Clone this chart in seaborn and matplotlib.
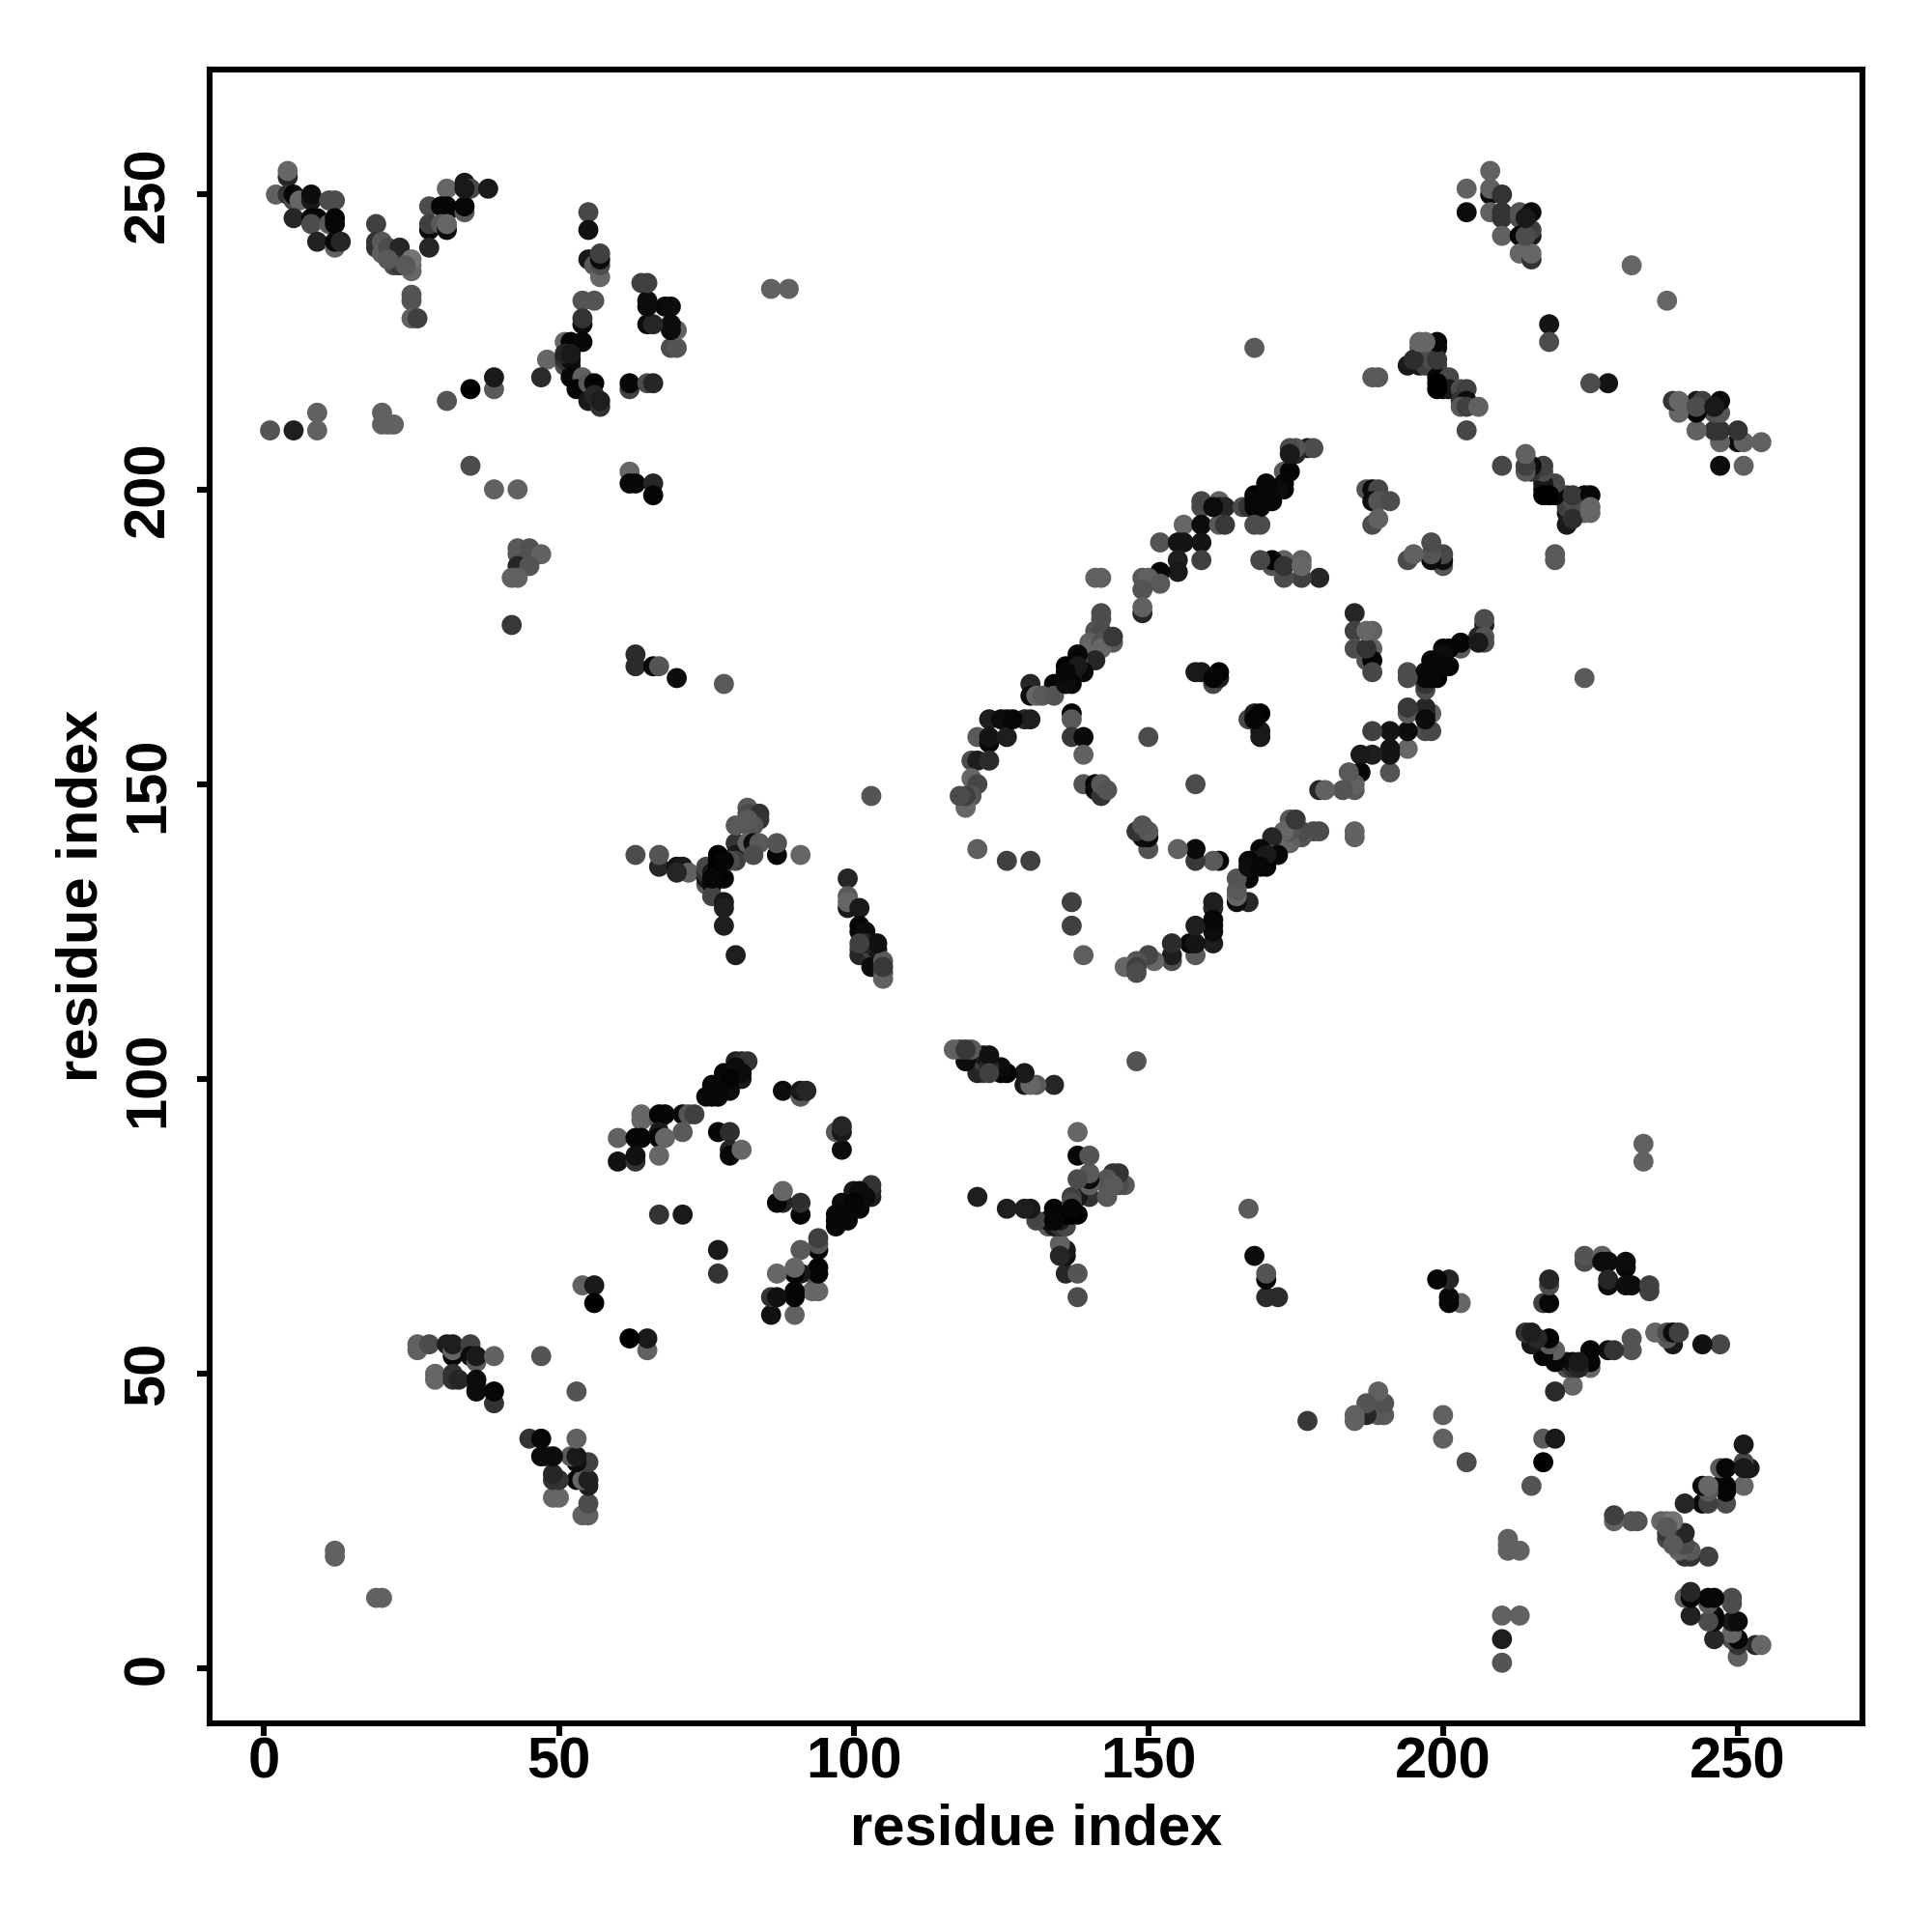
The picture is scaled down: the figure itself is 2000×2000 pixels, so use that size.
import matplotlib
matplotlib.use('Agg')
import matplotlib.pyplot as plt
import pandas as pd
import seaborn as sns

# contacts, grouped by blob. shade = grey level of the dot (0 black)
x_a = [4, 4, 2, 4, 5, 5, 6, 8, 8, 11, 12, 5, 8, 9, 8, 11, 12, 12, 9, 12, 12, 13]
y_a = [253, 254, 250, 250, 249, 250, 249, 249, 250, 249, 249, 246, 246, 246, 245, 245, 246, 245, 242, 241, 242, 242]
g_a = [.15, .4, .38, .2, .3, .03, .4, .1, .05, .3, .3, .15, .02, .02, .3, .35, .02, .03, .13, .38, .03, .15]

x_b = [19, 19, 19, 20, 20, 21, 22, 23, 23, 25, 25, 25, 25, 25, 25, 26]
y_b = [245, 242, 241, 242, 240, 241, 238, 241, 238, 237, 238, 239, 233, 232, 229, 229]
g_b = [.25, .2, .2, .35, .38, .3, .28, .15, .22, .4, .4, .45, .33, .33, .38, .25]

x_c = [31, 34, 35, 38, 28, 30, 31, 31, 34, 34, 28, 28, 30, 31, 31, 28]
y_c = [251, 252, 251, 251, 248, 248, 247, 248, 247, 248, 244, 245, 245, 244, 245, 241]
g_c = [.4, .1, .28, .1, .3, .02, .02, .02, .35, .03, .03, .25, .35, .05, .4, .15]

x_d = [55, 55, 55, 56, 57, 57, 57, 64, 54, 56, 54, 54, 51, 52, 54, 48, 51, 52, 51, 52, 47, 52, 54, 53, 55, 56, 55, 56, 57, 57, 62, 62]
y_d = [247, 244, 239, 238, 236, 238, 239, 235, 232, 232, 228, 229, 225, 225, 225, 222, 221, 221, 222, 222, 219, 219, 219, 217, 218, 218, 215, 216, 214, 215, 217, 218]
g_d = [.28, .07, .1, .35, .4, .3, .05, .25, .33, .33, .05, .2, .4, .02, .03, .4, .3, .1, .2, .05, .17, .03, .38, .02, .35, .02, .1, .15, .2, .12, .25, .03]

x_e = [57, 1, 5, 9, 9, 20, 20, 21, 22, 31, 35, 39, 39, 35, 39, 43, 62, 62, 63, 66, 66, 65, 12, 12, 19, 20]
y_e = [240, 210, 210, 213, 210, 213, 211, 211, 211, 215, 217, 217, 219, 204, 200, 200, 203, 201, 201, 201, 199, 218, 19, 20, 12, 12]
g_e = [.25, .33, .12, .38, .38, .38, .38, .38, .38, .33, .0, .35, .1, .3, .38, .38, .4, .03, .03, .15, .02, .3, .38, .38, .38, .38]

x_f = [43, 43, 45, 45, 47, 43, 45, 42, 43, 42, 63, 63, 66, 67, 70, 78, 86, 89, 168]
y_f = [190, 189, 190, 189, 189, 187, 187, 185, 185, 177, 172, 170, 170, 170, 168, 167, 234, 234, 224]
g_f = [.35, .35, .32, .32, .38, .15, .33, .38, .38, .22, .17, .17, .02, .33, .05, .35, .38, .38, .35]

x_g = [63, 67, 67, 70, 71, 72, 75, 75, 75, 75, 76, 76, 76, 77, 77, 77, 77, 78, 78, 78, 78, 80, 80, 80, 79, 80, 82, 82, 82, 84, 84, 83, 82, 83, 84, 83, 87, 87, 91, 103]
y_g = [138, 136, 138, 136, 136, 135, 133, 134, 135, 136, 135, 133, 131, 138, 137, 136, 135, 134, 130, 129, 126, 140, 138, 137, 137, 143, 146, 145, 143, 145, 144, 143, 140, 140, 140, 138, 138, 140, 138, 148]
g_g = [.3, .15, .33, .07, .1, .38, .35, .1, .2, .28, .1, .05, .27, .0, .0, .0, .0, .02, .1, .12, .12, .2, .1, .25, .3, .35, .35, .3, .35, .2, .2, .33, .38, .05, .35, .3, .03, .33, .4, .33]

x_h = [99, 99, 99, 99, 101, 101, 101, 102, 101, 101, 103, 104, 103, 105, 105, 105]
y_h = [134, 131, 129, 130, 129, 126, 125, 125, 122, 121, 122, 122, 119, 118, 117, 120]
g_h = [.15, .35, .1, .4, .1, .02, .03, .05, .3, .15, .25, .1, .05, .25, .38, .35]

x_i = [80, 81, 82, 78, 80, 81, 76, 78, 79, 75, 76, 77, 64, 64, 67, 68, 67, 71, 72, 73, 71, 60, 63, 64, 67, 67, 68, 77, 79, 79, 79, 81, 60, 63, 63, 67, 67, 71]
y_i = [103, 103, 103, 101, 101, 100, 99, 99, 98, 97, 97, 97, 94, 93, 93, 94, 94, 94, 94, 94, 91, 90, 90, 90, 91, 90, 90, 91, 91, 88, 87, 88, 86, 86, 87, 87, 77, 77]
g_i = [.12, .15, .2, .03, .05, .1, .03, .05, .05, .03, .03, .03, .4, .4, .35, .02, .02, .03, .33, .25, .35, .38, .02, .02, .1, .02, .4, .02, .18, .15, .03, .4, .07, .2, .07, .4, .2, .1]

x_j = [88, 91, 91, 92, 97, 98, 98, 98, 88, 87, 88, 91, 91, 100, 101, 102, 103, 103, 103, 98, 100, 101, 98, 99, 97, 97, 97]
y_j = [98, 97, 98, 98, 91, 92, 91, 88, 81, 79, 79, 79, 77, 81, 81, 80, 80, 81, 82, 79, 79, 78, 77, 76, 77, 76, 75]
g_j = [.05, .35, .1, .15, .38, .15, .15, .05, .4, .05, .15, .15, .02, .03, .05, .05, .1, .2, .25, .03, .02, .03, .03, .03, .03, .05, .1]

x_k = [94, 94, 94, 91, 94, 94, 90, 90, 91, 93, 87, 94, 93, 90, 90, 86, 87, 86, 90, 77, 77, 54, 56, 56, 62, 65, 65]
y_k = [71, 72, 73, 71, 68, 67, 68, 67, 67, 67, 67, 64, 64, 64, 63, 63, 63, 60, 60, 71, 67, 65, 65, 62, 56, 54, 56]
g_k = [.05, .3, .3, .35, .02, .02, .4, .03, .02, .38, .4, .4, .4, .02, .02, .15, .05, .07, .4, .07, .2, .38, .1, .0, .03, .35, .07]

x_l = [117, 118, 119, 120, 119, 123, 123, 122, 123, 125, 125, 126, 129, 129, 130, 131, 134, 148, 138, 138, 140, 138, 140, 140, 140, 137, 138, 140, 143, 143, 144, 145, 145, 146, 144]
y_l = [105, 105, 105, 105, 103, 102, 104, 101, 101, 102, 101, 101, 101, 99, 99, 99, 99, 103, 91, 87, 87, 83, 84, 82, 83, 80, 80, 80, 83, 80, 84, 84, 82, 82, 82]
g_l = [.4, .3, .22, .35, .12, .15, .07, .05, .25, .1, .08, .1, .12, .1, .35, .35, .15, .33, .4, .03, .3, .3, .33, .33, .05, .33, .05, .2, .3, .33, .15, .2, .15, .33, .35]

x_m = [121, 126, 129, 130, 131, 133, 133, 134, 134, 135, 136, 136, 137, 137, 138, 135, 135, 136, 136, 136, 138, 138]
y_m = [80, 78, 78, 78, 76, 75, 76, 78, 76, 76, 75, 77, 78, 77, 77, 72, 70, 71, 70, 67, 67, 63]
g_m = [.12, .15, .17, .17, .22, .25, .03, .02, .03, .05, .3, .03, .02, .02, .02, .35, .15, .1, .12, .2, .35, .33]

x_n = [159, 159, 162, 162, 163, 166, 167, 168, 168, 156, 159, 162, 163, 169, 152, 155, 156, 159, 155, 159, 155, 152, 149, 150, 152, 149, 149, 149, 141, 142]
y_n = [197, 198, 198, 197, 197, 197, 197, 199, 197, 194, 194, 194, 194, 194, 191, 191, 191, 191, 188, 188, 186, 186, 185, 185, 184, 183, 179, 180, 185, 185]
g_n = [.3, .28, .38, .1, .15, .3, .2, .0, .03, .4, .05, .35, .22, .3, .33, .08, .08, .08, .12, .25, .1, .03, .35, .38, .35, .33, .15, .38, .38, .38]

x_o = [142, 142, 141, 142, 144, 140, 140, 142, 142, 144, 141, 138, 138, 139, 136, 136, 137, 138, 134, 135, 137, 130, 130, 131, 132, 134, 137, 137]
y_o = [179, 178, 176, 176, 174, 174, 173, 174, 173, 175, 171, 171, 172, 169, 168, 170, 168, 170, 167, 167, 167, 167, 165, 165, 165, 165, 162, 161]
g_o = [.3, .3, .33, .3, .35, .38, .4, .33, .4, .22, .15, .3, .03, .03, .1, .0, .1, .1, .02, .02, .02, .15, .05, .4, .35, .33, .02, .35]

x_p = [158, 159, 161, 162, 162, 123, 125, 126, 129, 121, 123, 123, 126, 137, 139, 139, 150, 120, 121, 123, 120, 121, 120, 119, 119, 158, 139, 141, 141, 142, 142, 143]
y_p = [169, 169, 167, 168, 169, 161, 161, 161, 161, 158, 157, 158, 158, 158, 158, 155, 158, 154, 154, 154, 151, 150, 148, 147, 146, 150, 150, 150, 149, 148, 150, 149]
g_p = [.1, .1, .28, .12, .0, .12, .05, .05, .15, .35, .03, .08, .12, .22, .04, .38, .3, .3, .12, .17, .4, .28, .33, .38, .4, .3, .33, .02, .05, .2, .35, .33]

x_q = [148, 149, 149, 150, 150, 150, 155, 158, 158, 161, 162, 121, 126, 130, 137, 137, 139, 161, 161, 161, 158, 161, 157, 158, 158, 154, 154, 154, 150, 151, 148, 148, 146, 148]
y_q = [142, 143, 141, 141, 142, 139, 139, 137, 139, 137, 137, 139, 137, 137, 130, 126, 121, 130, 127, 126, 126, 123, 123, 121, 123, 120, 121, 123, 121, 120, 119, 120, 119, 118]
g_q = [.2, .33, .05, .1, .38, .33, .38, .2, .05, .4, .03, .37, .25, .25, .22, .22, .35, .12, .03, .03, .1, .12, .03, .35, .12, .3, .12, .15, .25, .38, .25, .33, .4, .3]

x_r = [185, 185, 188, 185, 188, 187, 188, 188, 194, 207, 207, 206, 207, 207, 203, 203, 201, 200, 200, 198, 201, 198, 200, 199, 197, 197, 197, 197]
y_r = [179, 176, 176, 173, 173, 171, 171, 169, 169, 177, 178, 175, 175, 174, 173, 174, 173, 173, 172, 170, 170, 171, 170, 168, 166, 167, 168, 169]
g_r = [.15, .25, .38, .3, .38, .33, .02, .28, .3, .12, .3, .15, .33, .3, .35, .02, .02, .02, .05, .1, .02, .03, .03, .03, .33, .2, .05, .03]

x_s = [194, 194, 197, 197, 198, 197, 198, 188, 191, 194, 194, 191, 191, 186, 188, 186, 191, 184, 179, 180, 183, 185, 185]
y_s = [162, 163, 161, 163, 162, 159, 159, 159, 159, 159, 156, 156, 155, 155, 155, 152, 152, 152, 149, 149, 149, 149, 150]
g_s = [.33, .28, .05, .15, .38, .35, .25, .3, .05, .05, .38, .1, .07, .1, .1, .03, .33, .38, .2, .33, .35, .35, .38]

x_t = [174, 175, 173, 176, 179, 178, 185, 185, 171, 174, 172, 169, 170, 167, 167, 169, 167, 165, 165, 165, 165, 167, 169, 168, 168, 167]
y_t = [144, 144, 142, 142, 142, 142, 141, 142, 141, 140, 138, 139, 136, 136, 137, 136, 134, 134, 132, 131, 130, 130, 162, 162, 161, 161]
g_t = [.38, .2, .38, .3, .27, .3, .3, .37, .2, .35, .05, .03, .02, .05, .0, .03, .02, .33, .4, .38, .03, .15, .02, .04, .02, .3]

x_u = [169, 169, 174, 174, 175, 177, 178, 173, 174, 170, 173, 173, 168, 168, 171, 166, 168, 168]
y_u = [159, 158, 206, 207, 207, 207, 207, 203, 203, 201, 200, 201, 198, 199, 198, 197, 197, 194]
g_u = [.03, .06, .1, .3, .28, .1, .28, .4, .02, .03, .02, .02, .03, .03, .05, .33, .05, .3]

x_v = [169, 171, 173, 171, 173, 173, 176, 176, 179, 187, 188, 189, 188, 189, 191, 188, 189, 194, 195, 198, 198, 198, 200, 200, 200, 204]
y_v = [188, 188, 188, 187, 187, 185, 187, 185, 185, 200, 200, 200, 198, 198, 198, 194, 195, 188, 189, 191, 189, 188, 189, 188, 187, 210]
g_v = [.3, .05, .33, .3, .2, .3, .4, .2, .13, .33, .05, .28, .05, .33, .3, .3, .38, .3, .38, .33, .38, .05, .25, .08, .35, .28]

x_w = [208, 204, 208, 208, 210, 204, 208, 210, 210, 213, 213, 215, 210, 213, 215, 215, 213, 215, 215, 232, 238, 218, 218, 225, 228]
y_w = [254, 251, 250, 251, 250, 247, 247, 246, 247, 246, 247, 247, 243, 243, 243, 244, 240, 239, 240, 238, 232, 228, 225, 218, 218]
g_w = [.38, .38, .05, .38, .2, .05, .38, .2, .2, .3, .33, .05, .38, .03, .1, .25, .4, .2, .4, .4, .4, .08, .3, .3, .05]

x_y = [196, 197, 199, 194, 196, 196, 197, 199, 198, 199, 201, 200, 201, 203, 204, 203, 204, 203, 204, 206, 204, 188, 189, 219, 219]
y_y = [224, 224, 224, 221, 221, 222, 221, 221, 222, 219, 219, 217, 217, 217, 217, 215, 215, 214, 214, 214, 210, 219, 219, 188, 189]
g_y = [.38, .38, .05, .1, .1, .35, .25, .25, .3, .03, .28, .05, .1, .3, .25, .2, .05, .35, .25, .38, .27, .35, .35, .4, .33]

x_z = [239, 240, 240, 243, 243, 244, 243, 246, 247, 247, 243, 246, 247, 250, 247, 250, 251, 254, 247, 251]
y_z = [215, 215, 213, 214, 215, 215, 213, 214, 213, 215, 210, 210, 210, 210, 208, 208, 208, 208, 204, 204]
g_z = [.2, .4, .38, .3, .1, .2, .05, .1, .33, .02, .35, .2, .15, .18, .35, .1, .38, .4, .03, .38]

x_aa = [214, 210, 214, 214, 215, 217, 217, 217, 219, 217, 218, 222, 225, 222, 222, 224, 225, 225]
y_aa = [206, 204, 203, 204, 204, 203, 204, 201, 201, 199, 199, 199, 199, 195, 196, 196, 196, 197]
g_aa = [.38, .28, .35, .3, .05, .25, .3, .02, .25, .0, .0, .22, .03, .18, .3, .4, .4, .4]

x_ab = [26, 26, 28, 31, 32, 32, 32, 35, 35, 36, 36, 39, 29, 29, 32, 32, 33, 36, 36, 36, 39, 39, 47]
y_ab = [55, 54, 55, 55, 53, 54, 55, 55, 53, 52, 53, 53, 50, 49, 50, 49, 49, 48, 49, 47, 45, 47, 53]
g_ab = [.38, .38, .3, .12, .03, .4, .12, .25, .05, .35, .1, .38, .4, .4, .2, .2, .15, .2, .05, .05, .2, .03, .33]

x_ac = [45, 47, 53, 47, 48, 49, 52, 53, 53, 55, 49, 49, 50, 53, 54, 55, 55, 49, 50, 55, 54, 55, 53]
y_ac = [39, 39, 39, 36, 36, 36, 36, 36, 35, 35, 33, 32, 32, 32, 32, 32, 31, 29, 29, 28, 26, 26, 47]
g_ac = [.2, .03, .33, .03, .1, .03, .35, .1, .05, .2, .12, .1, .15, .05, .4, .1, .12, .37, .37, .27, .37, .37, .33]

x_ad = [224, 224, 227, 227, 228, 231, 231, 228, 228, 231, 232, 235, 235, 218, 218, 217, 218, 214, 215, 215, 218, 218, 217, 219, 219, 222, 223, 222, 223]
y_ad = [69, 70, 70, 69, 69, 68, 69, 65, 66, 65, 65, 64, 65, 65, 66, 62, 62, 57, 57, 55, 55, 56, 53, 52, 54, 51, 51, 52, 52]
g_ad = [.3, .33, .38, .05, .05, .03, .05, .05, .15, .05, .05, .35, .25, .3, .15, .3, .0, .2, .1, .05, .1, .08, .03, .03, .33, .35, .15, .15, .1]

x_ae = [225, 225, 225, 228, 229, 232, 232, 236, 238, 238, 239, 239, 240, 244, 247, 219, 222, 217, 219, 217, 215]
y_ae = [51, 52, 54, 54, 54, 54, 56, 57, 57, 56, 55, 57, 57, 55, 55, 47, 48, 39, 39, 35, 31]
g_ae = [.35, .05, .07, .1, .25, .33, .3, .38, .3, .3, .12, .02, .25, .08, .33, .17, .4, .38, .15, .02, .33]

x_af = [251, 251, 251, 252, 247, 248, 251, 244, 245, 245, 247, 248, 248, 244, 245, 248, 241, 229, 229, 232, 233, 237, 239, 238, 238, 241, 239, 240, 242, 241, 242, 245]
y_af = [38, 35, 34, 34, 34, 34, 31, 31, 30, 31, 31, 30, 31, 28, 28, 28, 28, 25, 26, 25, 25, 25, 25, 24, 22, 23, 21, 20, 20, 19, 19, 19]
g_af = [.12, .25, .1, .15, .38, .03, .4, .03, .33, .35, .03, .03, .03, .05, .2, .28, .15, .35, .3, .33, .33, .38, .4, .35, .3, .15, .35, .38, .35, .05, .1, .27]

x_all = x_a + x_b + x_c + x_d + x_e + x_f + x_g + x_h + x_i + x_j + x_k + x_l + x_m + x_n + x_o + x_p + x_q + x_r + x_s + x_t + x_u + x_v + x_w + x_y + x_z + x_aa + x_ab + x_ac + x_ad + x_ae + x_af
y_all = y_a + y_b + y_c + y_d + y_e + y_f + y_g + y_h + y_i + y_j + y_k + y_l + y_m + y_n + y_o + y_p + y_q + y_r + y_s + y_t + y_u + y_v + y_w + y_y + y_z + y_aa + y_ab + y_ac + y_ad + y_ae + y_af
g_all = g_a + g_b + g_c + g_d + g_e + g_f + g_g + g_h + g_i + g_j + g_k + g_l + g_m + g_n + g_o + g_p + g_q + g_r + g_s + g_t + g_u + g_v + g_w + g_y + g_z + g_aa + g_ab + g_ac + g_ad + g_ae + g_af

ticks = [0, 50, 100, 150, 200, 250]

sns.set_theme(style='ticks')
plt.rcParams['font.family'] = ['Liberation Sans', 'DejaVu Sans']

contacts = pd.DataFrame({'i': x_all, 'j': y_all, 'shade': g_all})
# contact map is symmetric, each pair was read from one side or both
lo = contacts[['i', 'j']].min(axis=1)
hi = contacts[['i', 'j']].max(axis=1)
upper = pd.DataFrame({'i': lo, 'j': hi, 'shade': contacts['shade']}).drop_duplicates(['i', 'j'])
lower = upper.rename(columns={'i': 'j', 'j': 'i'})
both = pd.concat([upper, lower], ignore_index=True)

fig = plt.figure(figsize=(10, 10), dpi=200)
ax = fig.add_axes([217.3 / 2000, 1 - 1783.5 / 2000, 1711 / 2000, 1711.5 / 2000])
sns.scatterplot(data=both, x='i', y='j', hue='shade', palette='gray', hue_norm=(0, 1),
                s=56, linewidth=0, legend=False, ax=ax)

ax.set_xlim(-9.2, 271.2)
ax.set_ylim(-9.2, 271.2)
ax.set_xticks(ticks)
ax.set_yticks(ticks)
ax.tick_params(length=4.6, width=2.2, color='black', labelcolor='black', labelsize=21.5)
ax.tick_params(axis='x', pad=0.5)
ax.tick_params(axis='y', pad=8.3)
for lab in ax.get_xticklabels():
    lab.set_fontweight('bold')
for lab in ax.get_yticklabels():
    lab.set_fontweight('bold')
    lab.set_rotation(90)
    lab.set_va('center')
for side in ax.spines.values():
    side.set_linewidth(2.2)
    side.set_color('black')
ax.set_xlabel('residue index', fontsize=21.5, fontweight='bold', labelpad=5, color='black')
ax.set_ylabel('residue index', fontsize=21.5, fontweight='bold', labelpad=5, color='black')

fig.savefig('out.png', dpi=200)
